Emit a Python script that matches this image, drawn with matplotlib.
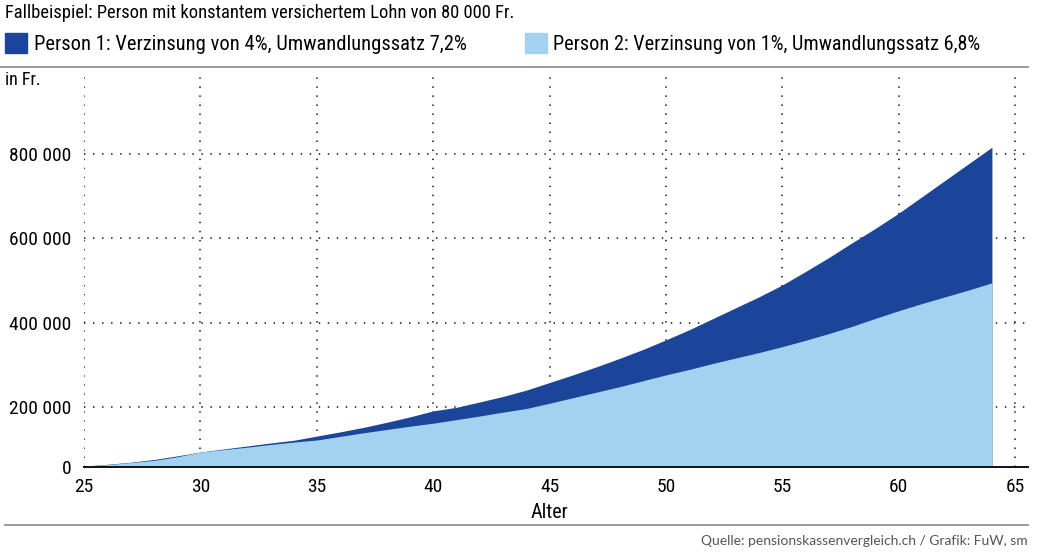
import numpy as np
import matplotlib
matplotlib.use("Agg")
import matplotlib.pyplot as plt
from matplotlib.patches import Rectangle
from matplotlib.lines import Line2D

# ---- data ----
ages = list(range(25, 65))
person1 = [3000, 9000, 16000, 25000, 37000, 50000, 60000, 70000, 80000, 89000,
           103000, 117000, 132000, 149000, 167000, 187000, 199000, 212000, 225000, 240000,
           258000, 276000, 295000, 315000, 336000, 359000, 383000, 409000, 435000, 461000,
           489000, 521000, 554000, 589000, 623000, 659000, 698000, 737000, 776000, 815000]
person2 = [3000, 8000, 15000, 22000, 34000, 50000, 58000, 66000, 75000, 83000,
           90000, 102000, 114000, 125000, 136000, 146000, 158000, 170000, 183000, 195000,
           209000, 222000, 235000, 248000, 262000, 276000, 289000, 303000, 316000, 329000,
           343000, 358000, 374000, 391000, 410000, 428000, 445000, 461000, 477000, 494000]
x_ticks = [25, 30, 35, 40, 45, 50, 55, 60, 65]
y_ticks = [0, 200000, 400000, 600000, 800000]
y_tick_labels = ["0", "200 000", "400 000", "600 000", "800 000"]
title = "Fallbeispiel: Person mit konstantem versichertem Lohn von 80 000 Fr."
label1 = "Person 1: Verzinsung von 4%, Umwandlungssatz 7,2%"
label2 = "Person 2: Verzinsung von 1%, Umwandlungssatz 6,8%"
source = "Quelle: pensionskassenvergleich.ch / Grafik: FuW, sm"

DARK = "#1a4598"
LIGHT = "#a3d1f0"
COND = dict(family=["Roboto Condensed", "DejaVu Sans"], fontstretch="condensed")

W, H = 1038, 556
fig = plt.figure(figsize=(W / 100, H / 100), dpi=100)
ax = fig.add_axes([84 / W, 1 - 467 / H, (1028 - 84) / W, (467 - 72) / H])

# the reference's value axis: first 200 000 compressed
def fwd(v):
    v = np.asarray(v, float)
    return np.where(v < 200000, v * 60 / 200000, 60 + (v - 200000) * 84.5 / 200000)

def inv(u):
    u = np.asarray(u, float)
    return np.where(u < 60, u * 200000 / 60, 200000 + (u - 60) * 200000 / 84.5)

ax.set_yscale("function", functions=(fwd, inv))

ax.fill_between(ages, 0, person1, color=DARK, lw=0, label=label1, zorder=2)
ax.fill_between(ages, 0, person2, color=LIGHT, lw=0, label=label2, zorder=3)

ax.set_xlim(25, 65.55)
ax.set_ylim(0, 993000)
ax.set_xticks(x_ticks)
ax.set_yticks(y_ticks)
ax.set_yticklabels(y_tick_labels)
ax.tick_params(length=0, labelsize=14)
ax.tick_params(axis="x", pad=8)
ax.tick_params(axis="y", pad=9)
for lab in ax.get_xticklabels() + ax.get_yticklabels():
    lab.set_family(COND["family"])
    lab.set_fontstretch("condensed")

ax.set_axisbelow(True)
ax.grid(True, color="#333333", linestyle=(0, (0.8, 4.2)), linewidth=1.3)
for s in ["top", "right", "left"]:
    ax.spines[s].set_visible(False)
ax.spines["bottom"].set_linewidth(1.4)
ax.spines["bottom"].set_color("#111111")
ax.spines["bottom"].set_zorder(5)

ax.set_xlabel("Alter", fontsize=14.5, labelpad=0, **COND)
ax.xaxis.set_label_coords((45 - 25) / 40.55, -0.092)

# header
fig.text(5 / W, 1 - 13 / H, title, fontsize=13.3, va="center", ha="left", **COND)
fig.patches.append(Rectangle((5 / W, 1 - 53 / H), 22 / W, 20 / H, transform=fig.transFigure,
                             color=DARK, figure=fig))
fig.text(34 / W, 1 - 44 / H, label1, fontsize=14.8, va="center", ha="left", **COND)
fig.patches.append(Rectangle((525 / W, 1 - 53 / H), 22 / W, 20 / H, transform=fig.transFigure,
                             color=LIGHT, figure=fig))
fig.text(553 / W, 1 - 44 / H, label2, fontsize=14.6, va="center", ha="left", **COND)

fig.lines.append(Line2D([0, 1028 / W], [1 - 67 / H] * 2, transform=fig.transFigure,
                        color="#888888", lw=1.2))
fig.text(5 / W, 1 - 80 / H, "in Fr.", fontsize=13, va="center", ha="left", **COND)

fig.lines.append(Line2D([5 / W, 1028 / W], [1 - 525 / H] * 2, transform=fig.transFigure,
                        color="#888888", lw=1.2))
fig.text(1028 / W, 1 - 541 / H, source, family=["Lato", "DejaVu Sans"], fontsize=10,
         color="#555555", va="center", ha="right")

fig.savefig("out.png", dpi=100)
